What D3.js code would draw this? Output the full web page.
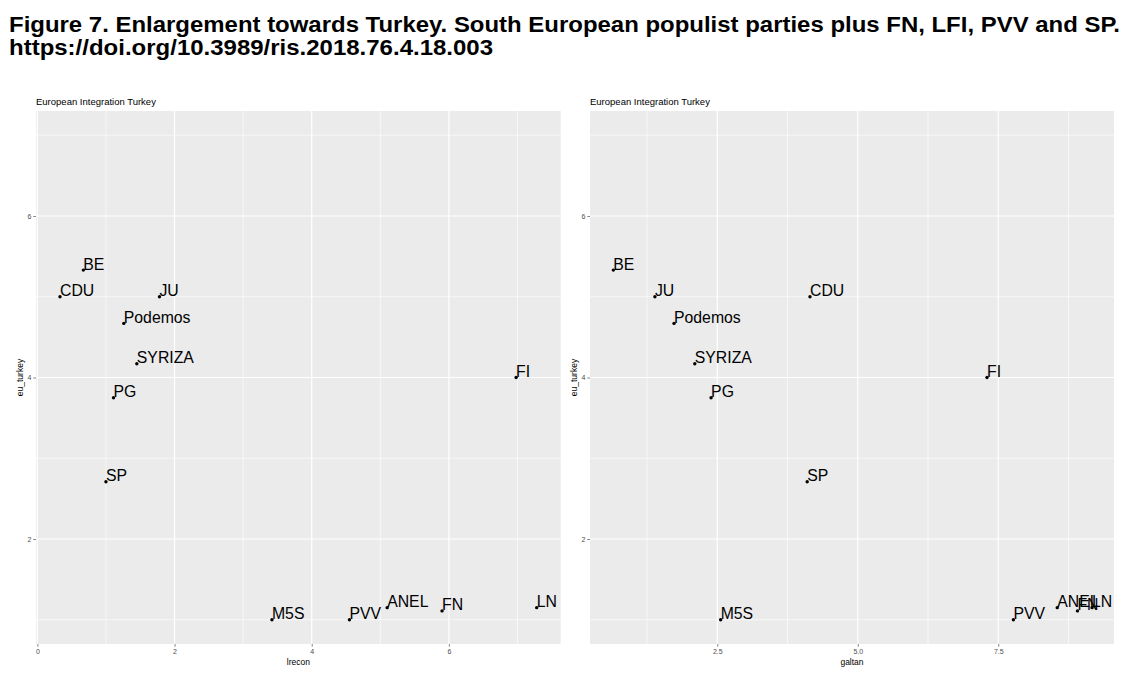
<!DOCTYPE html>
<html>
<head>
<meta charset="utf-8">
<script src="https://cdn.jsdelivr.net/npm/d3@7"></script>
<style>
  html, body { margin: 0; padding: 0; background: #fff; }
  svg { display: block; }
</style>
</head>
<body>
<svg id="chart" width="1129" height="683"></svg>
<script>
// ---- data ----
const parties   = ["BE", "CDU", "JU", "Podemos", "SYRIZA", "PG", "SP", "FI", "M5S", "PVV", "ANEL", "FN", "LN"];
const euTurkey  = [5.33, 5.0, 5.0, 4.67, 4.17, 3.75, 2.71, 4.0, 1.0, 1.0, 1.15, 1.11, 1.15];
const lrecon    = [0.67, 0.33, 1.78, 1.26, 1.45, 1.11, 1.0, 6.98, 3.42, 4.55, 5.10, 5.90, 7.28];
const galtan    = [0.65, 4.15, 1.39, 1.73, 2.10, 2.39, 4.10, 7.30, 2.56, 7.77, 8.55, 8.91, 9.17];

const titleLines = [
  "Figure 7. Enlargement towards Turkey. South European populist parties plus FN, LFI, PVV and SP.",
  "https://doi.org/10.3989/ris.2018.76.4.18.003"
];
const panelTitle = "European Integration Turkey";
const yTitle = "eu_turkey";
const yMajor = [2, 4, 6];
const yMinor = [1, 3, 5, 7];
const leftXMajor = [0, 2, 4, 6];
const leftXMinor = [1, 3, 5, 7];
const rightXMajor = [2.5, 5.0, 7.5];
const rightXMinor = [1.25, 3.75, 6.25, 8.75];

// ---- drawing ----
(function () {
const svg = d3.select("#chart");
const font = "'Liberation Sans', Arial, Helvetica, sans-serif";
const titleWidths = [1111, 484];

svg.append("g").selectAll("text").data(titleLines).join("text")
  .attr("x", 9)
  .attr("y", (d, i) => 32 + i * 23)
  .attr("font-family", font)
  .attr("font-weight", "bold")
  .attr("font-size", 21.5)
  .attr("fill", "#000")
  .attr("textLength", (d, i) => titleWidths[i])
  .attr("lengthAdjust", "spacingAndGlyphs")
  .text(d => d);

const pTop = 111, pBottom = 644;
const yDomain = [0.7, 7.3];

function panel(opts) {
  const g = svg.append("g");
  const x = d3.scaleLinear().domain(opts.xDomain).range([opts.left, opts.right]);
  const y = d3.scaleLinear().domain(yDomain).range([pBottom, pTop]);

  g.append("rect")
    .attr("x", opts.left).attr("y", pTop)
    .attr("width", opts.right - opts.left).attr("height", pBottom - pTop)
    .attr("fill", "#EBEBEB");

  // minor grid
  g.append("g").selectAll("line").data(opts.xMinor).join("line")
    .attr("x1", d => x(d)).attr("x2", d => x(d))
    .attr("y1", pTop).attr("y2", pBottom)
    .attr("stroke", "#fff").attr("stroke-width", 0.6);
  g.append("g").selectAll("line").data(yMinor).join("line")
    .attr("y1", d => y(d)).attr("y2", d => y(d))
    .attr("x1", opts.left).attr("x2", opts.right)
    .attr("stroke", "#fff").attr("stroke-width", 0.6);
  // major grid
  g.append("g").selectAll("line").data(opts.xMajor).join("line")
    .attr("x1", d => x(d)).attr("x2", d => x(d))
    .attr("y1", pTop).attr("y2", pBottom)
    .attr("stroke", "#fff").attr("stroke-width", 1.2);
  g.append("g").selectAll("line").data(yMajor).join("line")
    .attr("y1", d => y(d)).attr("y2", d => y(d))
    .attr("x1", opts.left).attr("x2", opts.right)
    .attr("stroke", "#fff").attr("stroke-width", 1.2);

  // axes
  const xAxis = d3.axisBottom(x).tickValues(opts.xMajor)
    .tickFormat(opts.xFormat).tickSize(2.7).tickPadding(2);
  const xa = g.append("g").attr("transform", `translate(0,${pBottom})`).call(xAxis);
  xa.select(".domain").remove();
  xa.selectAll("line").attr("stroke", "#333").attr("stroke-width", 0.6);
  xa.selectAll("text").attr("fill", "#4D4D4D").attr("font-size", 7).attr("font-family", font);

  const yAxis = d3.axisLeft(y).tickValues(yMajor)
    .tickFormat(d3.format("d")).tickSize(2.7).tickPadding(2);
  const ya = g.append("g").attr("transform", `translate(${opts.left},0)`).call(yAxis);
  ya.select(".domain").remove();
  ya.selectAll("line").attr("stroke", "#333").attr("stroke-width", 0.6);
  ya.selectAll("text").attr("fill", "#4D4D4D").attr("font-size", 7).attr("font-family", font);

  // titles
  g.append("text")
    .attr("x", opts.left).attr("y", 105)
    .attr("font-family", font).attr("font-size", 9.5).attr("fill", "#000")
    .text(panelTitle);
  g.append("text")
    .attr("x", (opts.left + opts.right) / 2).attr("y", 665)
    .attr("text-anchor", "middle")
    .attr("font-family", font).attr("font-size", 8.5).attr("fill", "#000")
    .text(opts.xTitle);
  g.append("text")
    .attr("transform", `translate(${opts.left - 13},${(pTop + pBottom) / 2}) rotate(-90)`)
    .attr("text-anchor", "middle")
    .attr("font-family", font).attr("font-size", 8.5).attr("fill", "#000")
    .text(yTitle);

  // points & labels
  const data = parties.map((p, i) => ({ p, x: opts.xs[i], y: euTurkey[i] }));
  g.append("g").selectAll("circle").data(data).join("circle")
    .attr("cx", d => x(d.x)).attr("cy", d => y(d.y))
    .attr("r", 1.7).attr("fill", "#000");
  g.append("g").selectAll("text").data(data).join("text")
    .attr("x", d => x(d.x)).attr("y", d => y(d.y) - 0.5)
    .attr("font-family", font).attr("font-size", 15.8).attr("fill", "#000")
    .text(d => d.p);
}

panel({
  left: 36, right: 560.7,
  xDomain: [-0.02, 7.63],
  xMajor: leftXMajor, xMinor: leftXMinor,
  xFormat: d3.format("d"),
  xs: lrecon, xTitle: "lrecon"
});
panel({
  left: 590, right: 1114,
  xDomain: [0.235, 9.56],
  xMajor: rightXMajor, xMinor: rightXMinor,
  xFormat: d3.format(".1f"),
  xs: galtan, xTitle: "galtan"
});
})();
</script>
</body>
</html>
